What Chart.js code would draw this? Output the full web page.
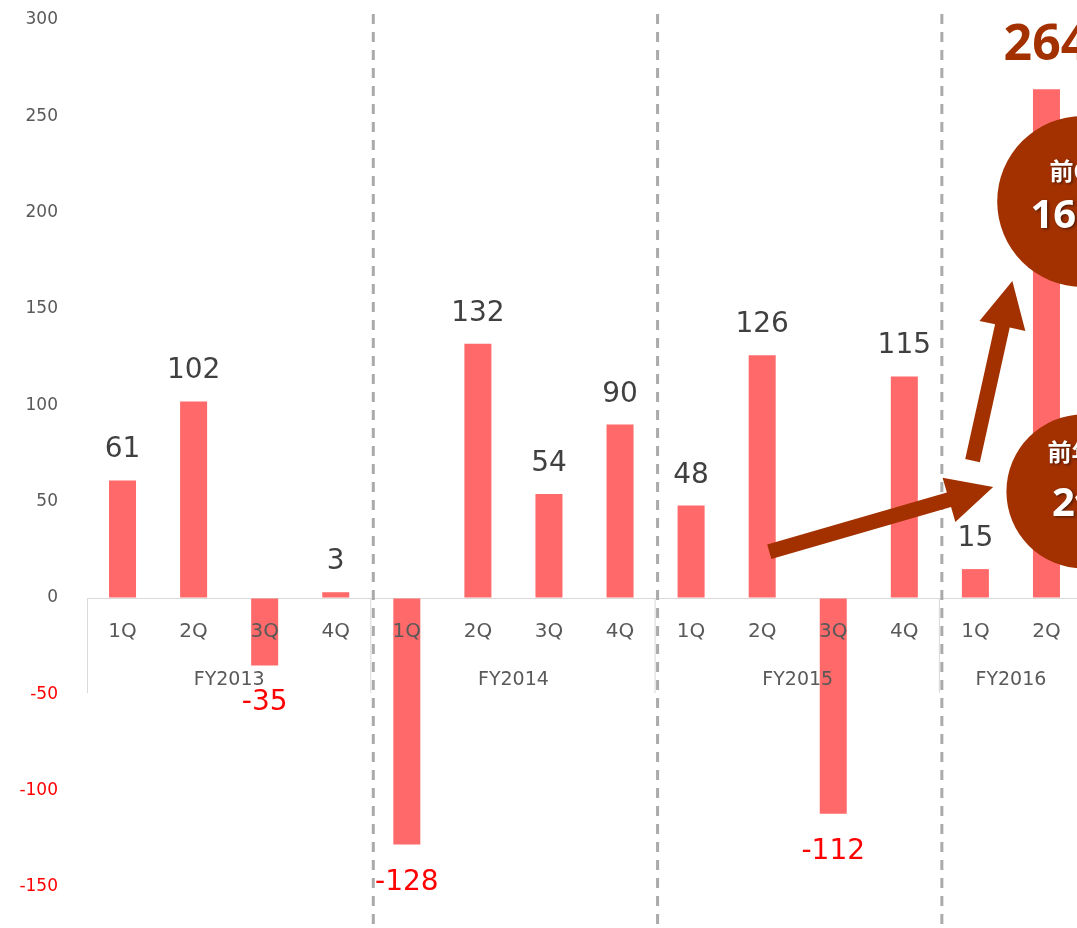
<!DOCTYPE html>
<html>
<head>
<meta charset="utf-8">
<script src="https://cdn.jsdelivr.net/npm/chart.js@4.4.0/dist/chart.umd.min.js"></script>
<style>
html, body { margin: 0; padding: 0; background: #fff; overflow: hidden; }
canvas { display: block; }
</style>
</head>
<body>
<canvas id="chart" width="1200" height="928"></canvas>
<script>
// data
const quarters = ['1Q', '2Q', '3Q', '4Q', '1Q', '2Q', '3Q', '4Q', '1Q', '2Q', '3Q', '4Q', '1Q', '2Q'];
const fiscalYears = ['FY2013', 'FY2014', 'FY2015', 'FY2016'];
const profit = [61, 102, -35, 3, -128, 132, 54, 90, 48, 126, -112, 115, 15, 264];
const yMin = -150, yMax = 300, yStep = 50;
const highlightIndex = 13;
const bubbleTexts = [['前Q比', '166%'], ['前年比', '2倍']];

const BAR = '#ff6969';
const BROWN = '#a33100';
const GRAY = '#595959';
const RED = '#ff0000';
const LATIN = '"DejaVu Sans", sans-serif';

const labels = quarters.map((q, i) => fiscalYears[Math.floor(i / 4)] + ' ' + q);

function arrow(ctx, x1, y1, x2, y2, shaft, headW, headL) {
    const a = Math.atan2(y2 - y1, x2 - x1);
    const len = Math.hypot(x2 - x1, y2 - y1);
    ctx.save();
    ctx.translate(x1, y1);
    ctx.rotate(a);
    ctx.beginPath();
    ctx.moveTo(0, -shaft / 2);
    ctx.lineTo(len - headL, -shaft / 2);
    ctx.lineTo(len - headL, -headW / 2);
    ctx.lineTo(len, 0);
    ctx.lineTo(len - headL, headW / 2);
    ctx.lineTo(len - headL, shaft / 2);
    ctx.lineTo(0, shaft / 2);
    ctx.closePath();
    ctx.fill();
    ctx.restore();
}

const overlay = {
    id: 'overlay',
    beforeDatasetsDraw(chart) {
        const { ctx, scales: { x } } = chart;
        ctx.save();
        ctx.strokeStyle = '#aaaaaa';
        ctx.lineWidth = 3;
        ctx.setLineDash([10, 8]);
        for (let g = 1; g < fiscalYears.length; g++) {
            const bx = (x.getPixelForValue(g * 4 - 1) + x.getPixelForValue(g * 4)) / 2 + 2;
            ctx.beginPath();
            ctx.moveTo(bx, 14);
            ctx.lineTo(bx, chart.height);
            ctx.stroke();
        }
        ctx.restore();
    },
    afterDatasetsDraw(chart) {
        const { ctx, chartArea, scales: { x, y } } = chart;
        const y0 = y.getPixelForValue(0);
        const meta = chart.getDatasetMeta(0);
        ctx.save();

        // group divider lines of the category axis
        ctx.strokeStyle = '#d9d9d9';
        ctx.lineWidth = 1;
        for (let g = 0; g < fiscalYears.length; g++) {
            const bx = g === 0 ? chartArea.left + 0.5 :
                (x.getPixelForValue(g * 4 - 1) + x.getPixelForValue(g * 4)) / 2 - 0.5;
            ctx.beginPath();
            ctx.moveTo(bx, y0);
            ctx.lineTo(bx, y0 + 95);
            ctx.stroke();
        }

        // quarter labels
        ctx.fillStyle = GRAY;
        ctx.textAlign = 'center';
        ctx.textBaseline = 'alphabetic';
        ctx.font = '20px ' + LATIN;
        quarters.forEach((q, i) => {
            ctx.fillText(q, x.getPixelForValue(i), y0 + 39);
        });

        // fiscal year labels
        ctx.font = '19px ' + LATIN;
        fiscalYears.forEach((fy, g) => {
            const first = g * 4;
            const last = Math.min(g * 4 + 3, quarters.length - 1);
            const cx = (x.getPixelForValue(first) + x.getPixelForValue(last)) / 2;
            ctx.fillText(fy, cx, y0 + 87);
        });

        // value labels
        meta.data.forEach((bar, i) => {
            const v = profit[i];
            if (i === highlightIndex) {
                ctx.font = 'bold 50px "Open Sans", sans-serif';
                ctx.fillStyle = BROWN;
                ctx.fillText(String(v), bar.x, bar.y - 29);
            } else if (v >= 0) {
                ctx.font = '28px ' + LATIN;
                ctx.fillStyle = '#404040';
                ctx.fillText(String(v), bar.x, bar.y - 23);
            } else {
                ctx.font = '28px ' + LATIN;
                ctx.fillStyle = RED;
                ctx.fillText(String(v), bar.x, bar.y + 45);
            }
        });
        ctx.restore();
    },
    afterDraw(chart) {
        const { ctx, scales: { x, y } } = chart;
        const px = i => x.getPixelForValue(0) + i * (x.getPixelForValue(1) - x.getPixelForValue(0));
        ctx.save();
        ctx.fillStyle = BROWN;
        // arrows (category index, value)
        arrow(ctx, px(9.1), y.getPixelForValue(24), px(12.25), y.getPixelForValue(57.6), 15, 46, 46);
        arrow(ctx, px(11.96), y.getPixelForValue(71.3), px(12.52), y.getPixelForValue(164.5), 15, 47, 46);

        // bubbles
        const bubbles = [
            { i: 13.51, v: 205.8, r: 85.5, t1: -31, t2: 15 },
            { i: 13.52, v: 55.3, r: 77, t1: -40, t2: 13 }
        ];
        bubbles.forEach((b, k) => {
            const cx = px(b.i), cy = y.getPixelForValue(b.v);
            ctx.fillStyle = BROWN;
            ctx.beginPath();
            ctx.arc(cx, cy, b.r, 0, Math.PI * 2);
            ctx.fill();
            ctx.save();
            ctx.fillStyle = '#ffffff';
            ctx.shadowColor = 'rgba(0,0,0,0.55)';
            ctx.shadowBlur = 3;
            ctx.shadowOffsetX = 1.5;
            ctx.shadowOffsetY = 1.5;
            ctx.textAlign = 'center';
            ctx.textBaseline = 'middle';
            ctx.font = 'bold 24px "Noto Sans CJK JP", sans-serif';
            ctx.fillText(bubbleTexts[k][0], cx, cy + b.t1);
            ctx.font = 'bold 40px "Open Sans", "Noto Sans CJK JP", sans-serif';
            ctx.fillText(bubbleTexts[k][1], cx, cy + b.t2);
            ctx.restore();
        });
        ctx.restore();
    }
};

const ctx = document.getElementById('chart').getContext('2d');

new Chart(ctx, {
    type: 'bar',
    data: {
        labels: labels,
        datasets: [{
            data: profit,
            backgroundColor: BAR,
            borderWidth: 0,
            barPercentage: 0.38,
            categoryPercentage: 1
        }]
    },
    options: {
        responsive: false,
        animation: false,
        layout: { padding: { left: 0, right: 118, top: 20, bottom: 41 } },
        plugins: {
            legend: { display: false },
            tooltip: { enabled: false }
        },
        scales: {
            x: { display: false },
            y: {
                min: yMin,
                max: yMax,
                afterFit: s => { s.width = 87; },
                border: { display: false },
                grid: {
                    drawTicks: true,
                    tickLength: 29,
                    tickColor: 'rgba(0,0,0,0)',
                    color: c => c.tick && c.tick.value === 0 ? '#d9d9d9' : 'rgba(0,0,0,0)'
                },
                ticks: {
                    stepSize: yStep,
                    padding: 0,
                    font: { family: 'DejaVu Sans', size: 17 },
                    color: c => c.tick.value < 0 ? RED : GRAY
                }
            }
        }
    },
    plugins: [overlay]
});
</script>
</body>
</html>
